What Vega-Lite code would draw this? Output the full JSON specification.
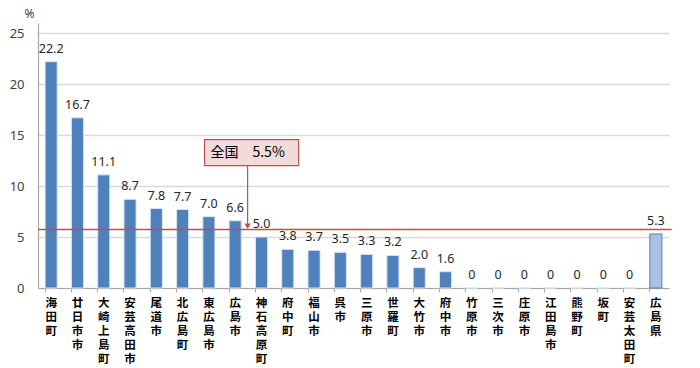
{
  "$schema": "https://vega.github.io/schema/vega-lite/v6.json",
  "width": 631,
  "height": 265,
  "autosize": "none",
  "padding": {"left": 38, "top": 23, "right": 31, "bottom": 80},
  "background": "white",
  "config": {"view": {"stroke": null}, "font": "Noto Sans"},
  "datasets": {
    "bars": [
      {"name": "海田町", "value": 22.2, "label": "22.2", "kind": "muni"},
      {"name": "廿日市市", "value": 16.7, "label": "16.7", "kind": "muni"},
      {"name": "大崎上島町", "value": 11.1, "label": "11.1", "kind": "muni"},
      {"name": "安芸高田市", "value": 8.7, "label": "8.7", "kind": "muni"},
      {"name": "尾道市", "value": 7.8, "label": "7.8", "kind": "muni"},
      {"name": "北広島町", "value": 7.7, "label": "7.7", "kind": "muni"},
      {"name": "東広島市", "value": 7.0, "label": "7.0", "kind": "muni"},
      {"name": "広島市", "value": 6.6, "label": "6.6", "kind": "muni"},
      {"name": "神石高原町", "value": 5.0, "label": "5.0", "kind": "muni"},
      {"name": "府中町", "value": 3.8, "label": "3.8", "kind": "muni"},
      {"name": "福山市", "value": 3.7, "label": "3.7", "kind": "muni"},
      {"name": "呉市", "value": 3.5, "label": "3.5", "kind": "muni"},
      {"name": "三原市", "value": 3.3, "label": "3.3", "kind": "muni"},
      {"name": "世羅町", "value": 3.2, "label": "3.2", "kind": "muni"},
      {"name": "大竹市", "value": 2.0, "label": "2.0", "kind": "muni"},
      {"name": "府中市", "value": 1.6, "label": "1.6", "kind": "muni"},
      {"name": "竹原市", "value": 0, "label": "0", "kind": "muni"},
      {"name": "三次市", "value": 0, "label": "0", "kind": "muni"},
      {"name": "庄原市", "value": 0, "label": "0", "kind": "muni"},
      {"name": "江田島市", "value": 0, "label": "0", "kind": "muni"},
      {"name": "熊野町", "value": 0, "label": "0", "kind": "muni"},
      {"name": "坂町", "value": 0, "label": "0", "kind": "muni"},
      {"name": "安芸太田町", "value": 0, "label": "0", "kind": "muni"},
      {"name": "広島県", "value": 5.3, "label": "5.3", "kind": "pref"}
    ],
    "note": [
      {"x": 6.07, "x2": 9.5, "y": 12.0, "y2": 14.56, "xc": 7.64, "yc": 13.28, "ya": 6.3, "yt": 6.05, "line": 5.75, "text": "全国　5.5%"}
    ]
  },
  "layer": [
    {
      "data": {"name": "bars"},
      "encoding": {
        "x": {
          "field": "name", "type": "nominal", "sort": null,
          "scale": {"paddingInner": 0.54, "paddingOuter": 0.27},
          "axis": {
            "title": null, "labelAngle": 0, "labelExpr": "split(datum.label, '')",
            "labelFont": "Noto Sans CJK JP", "labelFontSize": 11.5, "labelFontWeight": 600,
            "labelColor": "#000000", "labelLineHeight": 14, "labelBaseline": "top",
            "labelPadding": 5, "domainColor": "#a6a6a6", "domainWidth": 1.2,
            "tickColor": "#a6a6a6", "tickSize": 4, "bandPosition": 0, "grid": false
          }
        },
        "y": {
          "field": "value", "type": "quantitative",
          "scale": {"domain": [0, 25]},
          "axis": {
            "values": [0, 5, 10, 15, 20, 25], "title": "%", "titleAngle": 0,
            "titleX": -9, "titleY": -10, "titleAlign": "center", "titleBaseline": "middle",
            "titleFontSize": 12, "titleFontWeight": "normal", "titleColor": "#404040",
            "labelFontSize": 13, "labelColor": "#404040", "labelPadding": 14,
            "tickSize": 0, "domainColor": "#a6a6a6", "domainWidth": 1.2,
            "gridColor": "#d9d9d9", "gridWidth": 1.5
          }
        }
      },
      "layer": [
        {
          "mark": {"type": "bar", "strokeWidth": 1},
          "encoding": {
            "color": {"field": "kind", "type": "nominal", "scale": {"domain": ["muni", "pref"], "range": ["#4f81bd", "#a9c1e2"]}, "legend": null},
            "stroke": {"field": "kind", "type": "nominal", "scale": {"domain": ["muni", "pref"], "range": ["#dbe5f1", "#4f81bd"]}, "legend": null}
          }
        },
        {
          "mark": {"type": "text", "baseline": "bottom", "dy": -6, "fontSize": 12.5, "color": "#262626"},
          "encoding": {"text": {"field": "label"}}
        }
      ]
    },
    {
      "data": {"name": "note"},
      "encoding": {
        "x": {"field": "xc", "type": "quantitative", "scale": {"domain": [0, 23]}, "axis": null}
      },
      "layer": [
        {
          "mark": {"type": "rule", "color": "#c0504d", "strokeWidth": 1.5},
          "encoding": {
            "x": {"datum": 0, "type": "quantitative", "scale": {"domain": [0, 23]}, "axis": null},
            "x2": {"datum": 23.1},
            "y": {"field": "line", "type": "quantitative"}
          }
        },
        {
          "mark": {"type": "rect", "fill": "#f2dcdb", "stroke": "#c0504d", "strokeWidth": 1.2},
          "encoding": {
            "x": {"field": "x", "type": "quantitative", "scale": {"domain": [0, 23]}, "axis": null},
            "x2": {"field": "x2"},
            "y": {"field": "y", "type": "quantitative"},
            "y2": {"field": "y2"}
          }
        },
        {
          "mark": {"type": "text", "font": "Noto Sans CJK JP", "fontSize": 14, "color": "#000000", "baseline": "middle"},
          "encoding": {
            "y": {"field": "yc", "type": "quantitative"},
            "text": {"field": "text"}
          }
        },
        {
          "mark": {"type": "rule", "color": "#c0504d", "strokeWidth": 1.2},
          "encoding": {
            "y": {"field": "y", "type": "quantitative"},
            "y2": {"field": "ya"}
          }
        },
        {
          "mark": {"type": "point", "shape": "triangle-down", "filled": true, "color": "#c0504d", "size": 40, "opacity": 1},
          "encoding": {
            "y": {"field": "yt", "type": "quantitative"}
          }
        }
      ]
    }
  ],
  "resolve": {"scale": {"x": "independent"}, "axis": {"x": "independent"}}
}
